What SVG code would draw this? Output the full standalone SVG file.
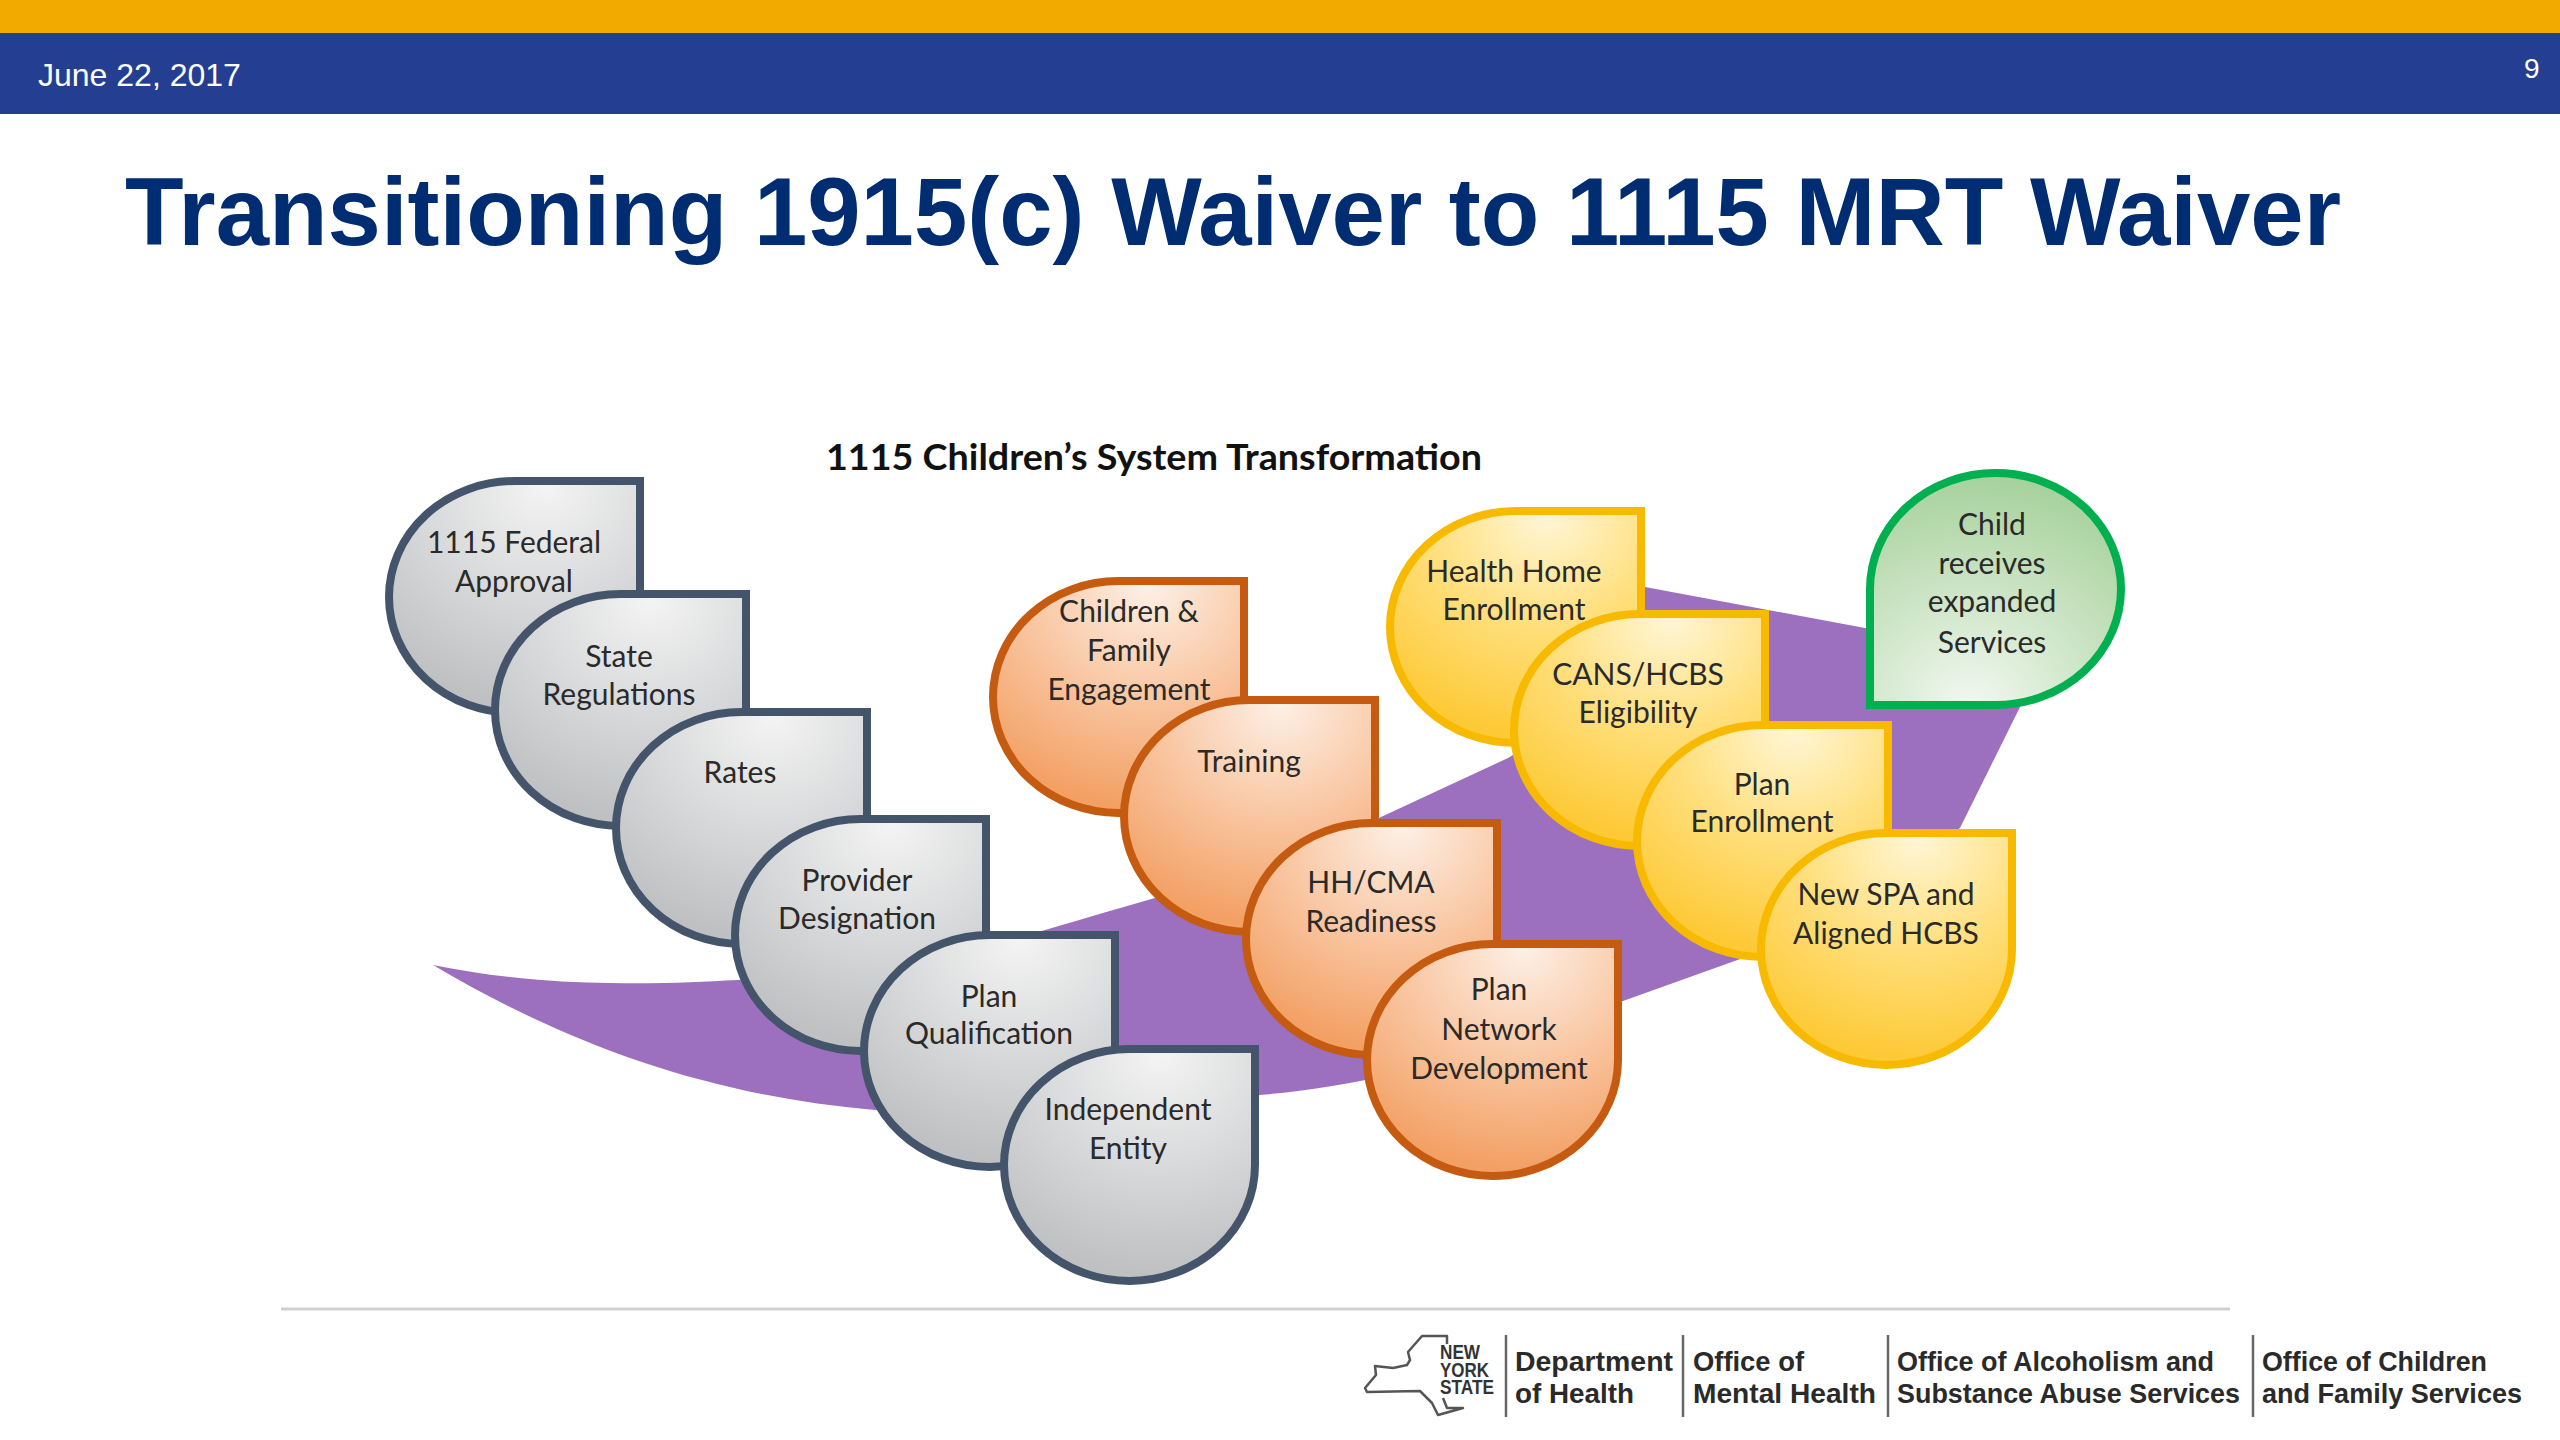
<svg xmlns="http://www.w3.org/2000/svg" width="2560" height="1440" viewBox="0 0 2560 1440">
<style>
.lb{font-family:Lato,"Open Sans",sans-serif;font-size:30px;fill:#2a2a2a;text-anchor:middle}
.gy{fill:url(#gGrey);stroke:#44546A;stroke-width:8}
.or{fill:url(#gOrange);stroke:#C55A11;stroke-width:8}
.ye{fill:url(#gYellow);stroke:#F7BA00;stroke-width:8}
.gr{fill:url(#gGreen);stroke:#00AF50;stroke-width:8}
.ft{font-family:"Liberation Sans",sans-serif;font-weight:700;font-size:28px;fill:#2a2a2a}
.ny{font-family:"Liberation Sans",sans-serif;font-weight:700;font-size:20px;fill:#333}
.sep{stroke:#666;stroke-width:2.5}
</style>
<defs>
<radialGradient id="gGrey" cx="0.62" cy="0.02" r="0.95"><stop offset="0" stop-color="#f4f4f4"/><stop offset="0.5" stop-color="#d9dadb"/><stop offset="1" stop-color="#bfc0c2"/></radialGradient>
<radialGradient id="gOrange" cx="0.62" cy="0.02" r="0.95"><stop offset="0" stop-color="#fdf0e6"/><stop offset="0.5" stop-color="#f9c7a3"/><stop offset="1" stop-color="#f3a064"/></radialGradient>
<radialGradient id="gYellow" cx="0.62" cy="0.02" r="0.95"><stop offset="0" stop-color="#fff6d6"/><stop offset="0.5" stop-color="#ffdf7c"/><stop offset="1" stop-color="#fdc936"/></radialGradient>
<radialGradient id="gGreen" cx="0.4" cy="1" r="1"><stop offset="0" stop-color="#f2f8f0"/><stop offset="1" stop-color="#a6d19b"/></radialGradient>
<path id="drop" d="M125.5,0H251V116A125.5,116 0 0 1 125.5,232A125.5,116 0 0 1 0,116A125.5,116 0 0 1 125.5,0Z"/>
<path id="dropG" d="M125.5,0A125.5,116 0 0 1 251,116A125.5,116 0 0 1 125.5,232H0V116A125.5,116 0 0 1 125.5,0Z"/>
</defs>
<rect width="2560" height="1440" fill="#fff"/>
<rect width="2560" height="33" fill="#F2AA00"/>
<rect y="33" width="2560" height="81" fill="#243E92"/>
<text x="38" y="86" font-family="Liberation Sans, sans-serif" font-size="32" fill="#fff">June 22, 2017</text>
<text x="2524" y="78" font-family="Liberation Sans, sans-serif" font-size="28" fill="#fff">9</text>
<text x="125" y="245" font-family="Liberation Sans, sans-serif" font-weight="700" font-size="96" fill="#002D72" textLength="2216" lengthAdjust="spacingAndGlyphs">Transitioning 1915(c) Waiver to 1115 MRT Waiver</text>
<text x="1154" y="470" font-family="Lato, sans-serif" font-weight="700" font-size="36" fill="#111" text-anchor="middle" textLength="656" lengthAdjust="spacingAndGlyphs">1115 Children’s System Transformation</text>

<path id="swoosh" fill="#9C70BF" d="M433,965C490,977 560,983 610,983C660,984 700,982 737,980C850,975 950,960 1045,930C1180,890 1300,860 1381,817L1508,758L1600,700L1645,587L1865,628L2040,660L2021,705L1960,828L1743,958L1623,1001C1500,1050 1380,1085 1260,1095C1120,1115 1000,1120 875,1110C700,1095 560,1040 433,965Z"/>

<g id="connectors"></g>

<g id="n-federal"><use href="#drop" class="gy" x="389" y="481"/><text class="lb" x="514" y="553">1115 Federal</text><text class="lb" x="514" y="592">Approval</text></g>
<g id="n-state"><use href="#drop" class="gy" x="495" y="594"/><text class="lb" x="619" y="667">State</text><text class="lb" x="619" y="705">Regulations</text></g>
<g id="n-rates"><use href="#drop" class="gy" x="616" y="712"/><text class="lb" x="740" y="783">Rates</text></g>
<g id="n-provider"><use href="#drop" class="gy" x="735" y="819"/><text class="lb" x="857" y="891">Provider</text><text class="lb" x="857" y="929">Designation</text></g>
<g id="n-qualification"><use href="#drop" class="gy" x="864" y="935"/><text class="lb" x="989" y="1007">Plan</text><text class="lb" x="989" y="1044">Qualification</text></g>
<g id="n-independent"><use href="#drop" class="gy" x="1004" y="1049"/><text class="lb" x="1128" y="1120">Independent</text><text class="lb" x="1128" y="1159">Entity</text></g>

<g id="n-engagement"><use href="#drop" class="or" x="993" y="581"/><text class="lb" x="1129" y="622">Children &amp;</text><text class="lb" x="1129" y="661">Family</text><text class="lb" x="1129" y="700">Engagement</text></g>
<g id="n-training"><use href="#drop" class="or" x="1124" y="700"/><text class="lb" x="1249" y="772">Training</text></g>
<g id="n-readiness"><use href="#drop" class="or" x="1246" y="823"/><text class="lb" x="1371" y="893">HH/CMA</text><text class="lb" x="1371" y="932">Readiness</text></g>
<g id="n-network"><use href="#drop" class="or" x="1367" y="944"/><text class="lb" x="1499" y="1000">Plan</text><text class="lb" x="1499" y="1040">Network</text><text class="lb" x="1499" y="1079">Development</text></g>

<g id="n-health"><use href="#drop" class="ye" x="1390" y="511"/><text class="lb" x="1514" y="582">Health Home</text><text class="lb" x="1514" y="620">Enrollment</text></g>
<g id="n-cans"><use href="#drop" class="ye" x="1514" y="614"/><text class="lb" x="1638" y="685">CANS/HCBS</text><text class="lb" x="1638" y="723">Eligibility</text></g>
<g id="n-enroll"><use href="#drop" class="ye" x="1637" y="725"/><text class="lb" x="1762" y="795">Plan</text><text class="lb" x="1762" y="832">Enrollment</text></g>
<g id="n-spa"><use href="#drop" class="ye" x="1761" y="833"/><text class="lb" x="1886" y="905">New SPA and</text><text class="lb" x="1886" y="944">Aligned HCBS</text></g>
<g id="n-child"><use href="#dropG" class="gr" x="1870" y="473"/><text class="lb" x="1992" y="535">Child</text><text class="lb" x="1992" y="574">receives</text><text class="lb" x="1992" y="612">expanded</text><text class="lb" x="1992" y="653">Services</text></g>

<line x1="281" y1="1309" x2="2230" y2="1309" stroke="#cfcfcf" stroke-width="3"/>
<g id="footer">
<path fill="none" stroke="#555" stroke-width="2.5" stroke-linejoin="round" d="M1447,1344V1336H1422L1408,1352L1410,1360L1407,1365L1393,1368L1375,1366L1376,1375L1365,1388L1367,1392L1420,1391L1432,1403L1438,1415L1463,1408L1447,1408L1443,1398"/>
<text class="ny" x="1440" y="1359" textLength="40" lengthAdjust="spacingAndGlyphs">NEW</text>
<text class="ny" x="1440" y="1377" textLength="49" lengthAdjust="spacingAndGlyphs">YORK</text>
<text class="ny" x="1440" y="1394" textLength="54" lengthAdjust="spacingAndGlyphs">STATE</text>
<line class="sep" x1="1506" y1="1335" x2="1506" y2="1417"/>
<line class="sep" x1="1683" y1="1335" x2="1683" y2="1417"/>
<line class="sep" x1="1888" y1="1335" x2="1888" y2="1417"/>
<line class="sep" x1="2253" y1="1335" x2="2253" y2="1417"/>
<text class="ft" x="1515" y="1371" textLength="158" lengthAdjust="spacingAndGlyphs">Department</text>
<text class="ft" x="1515" y="1403" textLength="119" lengthAdjust="spacingAndGlyphs">of Health</text>
<text class="ft" x="1693" y="1371" textLength="111" lengthAdjust="spacingAndGlyphs">Office of</text>
<text class="ft" x="1693" y="1403" textLength="183" lengthAdjust="spacingAndGlyphs">Mental Health</text>
<text class="ft" x="1897" y="1371" textLength="317" lengthAdjust="spacingAndGlyphs">Office of Alcoholism and</text>
<text class="ft" x="1897" y="1403" textLength="343" lengthAdjust="spacingAndGlyphs">Substance Abuse Services</text>
<text class="ft" x="2262" y="1371" textLength="225" lengthAdjust="spacingAndGlyphs">Office of Children</text>
<text class="ft" x="2262" y="1403" textLength="260" lengthAdjust="spacingAndGlyphs">and Family Services</text>
</g>
</svg>
